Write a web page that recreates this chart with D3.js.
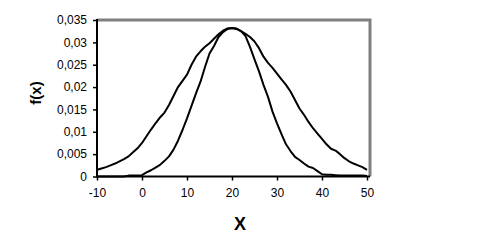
<!DOCTYPE html>
<html><head><meta charset="utf-8">
<script src="https://cdn.jsdelivr.net/npm/d3@7"></script>
<style>body{margin:0;background:#fff}svg{display:block}text{font-family:"Liberation Sans",Arial,sans-serif}</style>
</head><body>
<svg id="c" width="485" height="251"></svg>
<script>
const xValues = d3.range(-10, 51);
const wideSeries = [0.0015,0.0018,0.0021,0.0025,0.0029,0.0034,0.0039,0.0045,0.0054,0.0063,
 0.0075,0.0090,0.0105,0.0119,0.0132,0.0143,0.0160,0.0180,0.0200,0.0214,
 0.0228,0.0250,0.0268,0.0280,0.0290,0.0298,0.0308,0.0318,0.0326,0.0331,
 0.0332,0.0331,0.0325,0.0319,0.0312,0.0302,0.0287,0.0268,0.0254,0.0243,
 0.0230,0.0217,0.0205,0.0190,0.0171,0.0152,0.0138,0.0122,0.0108,0.0096,
 0.0084,0.0072,0.0062,0.0058,0.0050,0.0041,0.0034,0.0029,0.0025,0.0021,0.0015];
const narrowSeries = [0,0,0,0,0,0,0,0.0002,0.0002,0.0002,
 0.0003,0.0009,0.0014,0.0020,0.0026,0.0035,0.0045,0.0060,0.0080,0.0104,
 0.0130,0.0158,0.0186,0.0212,0.0245,0.0275,0.0292,0.0312,0.0323,0.0330,
 0.0332,0.0330,0.0325,0.0314,0.0290,0.0262,0.0235,0.0205,0.0178,0.0145,
 0.0119,0.0095,0.0072,0.0057,0.0044,0.0037,0.0029,0.0022,0.0019,0.0012,
 0.0005,0.0004,0.0004,0.0003,0.0002,0.0002,0.0002,0.0002,0.0002,0.0002,0.0001];
const xTicks = [-10,0,10,20,30,40,50];
const yTicks = [0,0.005,0.01,0.015,0.02,0.025,0.03,0.035];
const yTickLabels = ["0","0,005","0,01","0,015","0,02","0,025","0,03","0,035"];

const svg = d3.select("#c");
const x = d3.scaleLinear().domain([-10,50]).range([97,367]);
const y = d3.scaleLinear().domain([0,0.035]).range([176.5,20]);

// plot frame (gray top/right)
svg.append("path").attr("d",`M97,20H370V176.5`).attr("fill","none").attr("stroke","#808080").attr("stroke-width",3);

const line = d3.line().x((d,i)=>x(xValues[i])).y(d=>y(d)).curve(d3.curveLinear);
[wideSeries, narrowSeries].forEach(s=>{
  svg.append("path").datum(s).attr("d",line).attr("fill","none").attr("stroke","#000").attr("stroke-width",2).attr("stroke-linejoin","round");
});

const yAxis = d3.axisLeft(y).tickValues(yTicks).tickFormat((d,i)=>yTickLabels[i]).tickSize(4).tickPadding(6);
const gy = svg.append("g").attr("transform","translate(97,0)").call(yAxis);
const xAxis = d3.axisBottom(x).tickValues(xTicks).tickSize(4).tickPadding(8).tickFormat(d=>String(d));
const gx = svg.append("g").attr("transform","translate(0,176.5)").call(xAxis);
[gx,gy].forEach(g=>{
  g.select(".domain").remove();
  g.selectAll("line").attr("stroke","#000").attr("stroke-width",1.5);
  g.selectAll("text").attr("font-size",12).attr("fill","#000").attr("font-family","Liberation Sans, Arial, sans-serif");
});
svg.append("line").attr("x1",97).attr("x2",97).attr("y1",19).attr("y2",177.5).attr("stroke","#000").attr("stroke-width",2);
svg.append("line").attr("x1",96).attr("x2",370).attr("y1",176.5).attr("y2",176.5).attr("stroke","#000").attr("stroke-width",2);

svg.append("text").attr("x",240).attr("y",230).attr("text-anchor","middle").attr("font-size",18).attr("font-weight","bold").text("X");
svg.append("text").attr("transform","translate(41,93) rotate(-90)").attr("text-anchor","middle").attr("font-size",15).attr("font-weight","bold").text("f(x)");
</script>
</body></html>
